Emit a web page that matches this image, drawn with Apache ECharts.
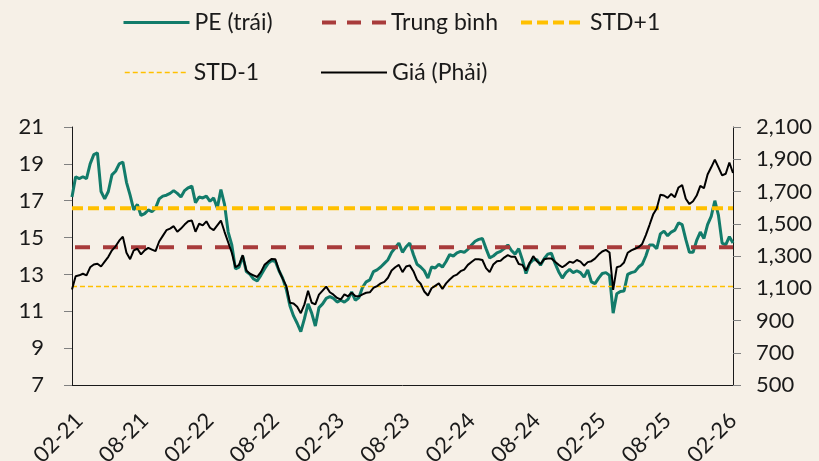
<!DOCTYPE html>
<html>
<head>
<meta charset="utf-8">
<script src="https://cdn.jsdelivr.net/npm/echarts@6/dist/echarts.min.js"></script>
<style>
  html, body { margin: 0; padding: 0; background: #f6f0e7; }
  #chart { width: 819px; height: 461px; }
</style>
</head>
<body>
<div id="chart"></div>
<script>
// P/E (left axis), ~3 points per month
const peValues = [
  17.2, 18.3, 18.2, 18.3, 18.2, 19.0, 19.5, 19.6, 17.5, 17.1,
  17.5, 18.4, 18.6, 19.0, 19.1, 18.0, 17.3, 16.5, 16.8, 16.2,
  16.3, 16.5, 16.4, 16.6, 17.1, 17.25, 17.3, 17.4, 17.55, 17.4,
  17.2, 17.55, 17.7, 17.8, 16.9, 17.2, 17.15, 17.25, 16.97, 17.15,
  16.6, 17.6, 16.8, 15.3, 14.6, 13.3, 13.4, 14.0, 13.15, 13.0,
  12.75, 12.65, 12.95, 13.3, 13.6, 13.75, 13.7, 13.2, 12.8, 12.2,
  11.3, 10.75, 10.35, 9.9, 10.6, 11.4, 10.9, 10.2, 11.2, 11.4,
  11.7, 11.8, 11.7, 11.5, 11.6, 11.5, 11.65, 12.05, 11.6, 11.75,
  12.3, 12.6, 12.7, 13.15, 13.25, 13.4, 13.6, 13.8, 14.2, 14.45,
  14.7, 14.2, 14.5, 14.7, 14.08, 13.55, 13.4, 13.2, 12.8, 13.4,
  13.35, 13.55, 13.4, 13.7, 14.08, 14.0, 14.17, 14.25, 14.2, 14.36,
  14.6, 14.8, 14.9, 14.95, 14.4, 13.9, 14.0, 14.17, 14.25, 14.4,
  14.6, 14.3, 14.1, 14.4, 13.8, 13.05, 13.6, 13.8, 13.8, 13.5,
  13.85, 14.1, 14.15, 13.6, 13.15, 12.8, 13.1, 13.27, 13.1, 13.2,
  13.1, 12.85, 13.25, 12.6, 12.5, 12.8, 13.05, 13.1, 12.95, 10.9,
  11.95, 12.08, 12.1, 13.0, 13.1, 13.15, 13.4, 13.55, 14.0, 14.6,
  14.6, 14.4, 15.2, 15.35, 15.1, 15.3, 15.4, 15.8, 15.7, 14.9,
  14.2, 14.2, 14.85, 15.3, 14.95, 15.7, 16.15, 17.0, 16.2, 14.7,
  14.6, 15.05, 14.7
];

// Giá (right axis)
const priceValues = [
  1092, 1175, 1180, 1190, 1180, 1230, 1247, 1252, 1235, 1265,
  1295, 1335, 1360, 1395, 1420, 1320, 1280, 1335, 1345, 1310,
  1335, 1350, 1340, 1330, 1390, 1425, 1460, 1470, 1485, 1450,
  1470, 1495, 1515, 1520, 1450, 1500, 1490, 1515, 1475, 1460,
  1490, 1520, 1450, 1385, 1320, 1230, 1245, 1305, 1210, 1190,
  1180, 1170, 1200, 1245, 1265, 1282, 1280, 1210, 1160, 1115,
  1010, 1005, 985, 945, 1000, 1085, 1010, 1000, 1060, 1085,
  1110, 1075, 1060, 1040, 1030, 1062, 1050, 1072, 1052, 1050,
  1062, 1072, 1075, 1103, 1113, 1130, 1140, 1165, 1210, 1230,
  1245, 1200, 1235, 1242, 1206, 1152, 1128, 1080, 1055, 1100,
  1115, 1130, 1095, 1130, 1154, 1175, 1185, 1206, 1216, 1245,
  1263, 1280, 1280, 1275, 1225, 1200, 1247, 1268, 1270, 1290,
  1305, 1295, 1295, 1250, 1245, 1210, 1255, 1299, 1268, 1250,
  1280, 1285, 1285, 1265, 1245, 1230, 1245, 1265, 1258, 1275,
  1265, 1240, 1262, 1268, 1284, 1309, 1328, 1338, 1322, 1090,
  1230, 1237, 1260, 1320, 1335, 1345, 1355, 1375, 1430, 1492,
  1557, 1595, 1680, 1675, 1660, 1685, 1665, 1725, 1740, 1655,
  1622, 1640, 1675, 1735, 1720, 1805, 1850, 1898, 1850, 1800,
  1810, 1880, 1815
];

const peMean = 14.47;
const peStdUp = 16.59;
const peStdDown = 12.35;

const xTickLabels = ["02-21", "08-21", "02-22", "08-22", "02-23", "08-23",
  "02-24", "08-24", "02-25", "08-25", "02-26"];

// dates: 1st, 11th, 21st of each month starting 2021-01-11
const dates = [];
(function () {
  let y = 2021, m = 1, d = 11;
  while (dates.length < peValues.length) {
    dates.push(y + "-" + String(m).padStart(2, "0") + "-" + String(d).padStart(2, "0"));
    if (d === 1) d = 11;
    else if (d === 11) d = 21;
    else { d = 1; m++; if (m > 12) { m = 1; y++; } }
  }
})();

const shortLabel = (s) => s.slice(5, 7) + "-" + s.slice(2, 4);
const flat = (v) => dates.map(() => v);

const font = "Lato";
const textColor = "#1a1a1a";
const green = "#127b6a";
const red = "#a83b3b";
const gold = "#ffc000";

const legendItem = (name, left, top, lineStyle) => ({
  data: [name],
  left: left,
  top: top,
  itemWidth: 66,
  itemHeight: 14,
  selectedMode: false,
  itemStyle: { opacity: 0 },
  lineStyle: lineStyle,
  textStyle: { fontFamily: font, fontSize: 23, color: textColor },
});

const chart = echarts.init(document.getElementById("chart"));
chart.setOption({
  backgroundColor: "#f6f0e7",
  animation: false,
  legend: [
    legendItem("PE (trái)", 117, 6, { width: 3 }),
    legendItem("Trung bình", 313, 6, { width: 4, type: [14, 11], dashOffset: -2 }),
    legendItem("STD+1", 512, 6, { width: 4, type: [11, 5] }),
    legendItem("STD-1", 117, 56, { width: 1.5, type: [5, 3] }),
    legendItem("Giá (Phải)", 315, 56, { width: 2 }),
  ],
  grid: { left: 72, right: 86, top: 127, bottom: 76, outerBoundsMode: "none" },
  xAxis: {
    type: "category",
    data: dates,
    boundaryGap: false,
    axisLine: { lineStyle: { color: textColor, width: 1 } },
    axisTick: { show: false },
    axisLabel: {
      rotate: 45,
      margin: 32,
      fontFamily: font,
      fontSize: 22,
      color: textColor,
      interval: (i, v) => v.slice(8) === "01" && xTickLabels.includes(shortLabel(v)),
      formatter: (v) => shortLabel(v),
    },
    splitLine: { show: false },
  },
  yAxis: [
    {
      type: "value",
      min: 7,
      max: 21,
      interval: 2,
      axisLine: { show: true, lineStyle: { color: textColor, width: 1 } },
      axisTick: { show: true, length: 8, lineStyle: { color: "#808080" } },
      axisLabel: { margin: 28, fontFamily: font, fontSize: 22, color: textColor },
      splitLine: { show: false },
    },
    {
      type: "value",
      min: 500,
      max: 2100,
      interval: 200,
      position: "right",
      axisLine: { show: true, lineStyle: { color: textColor, width: 1 } },
      axisTick: { show: true, length: 8, lineStyle: { color: "#808080" } },
      axisLabel: {
        margin: 23,
        fontFamily: font,
        fontSize: 22,
        color: textColor,
        formatter: (v) => v.toLocaleString("en-US"),
      },
      splitLine: { show: false },
    },
  ],
  series: [
    {
      name: "PE (trái)",
      type: "line",
      yAxisIndex: 0,
      data: peValues,
      symbol: "none",
      itemStyle: { color: green },
      lineStyle: { color: green, width: 3 },
    },
    {
      name: "Trung bình",
      type: "line",
      yAxisIndex: 0,
      data: flat(peMean),
      symbol: "none",
      itemStyle: { color: red },
      lineStyle: { color: red, width: 4, type: [15, 13], dashOffset: -3 },
    },
    {
      name: "STD+1",
      type: "line",
      yAxisIndex: 0,
      data: flat(peStdUp),
      symbol: "none",
      itemStyle: { color: gold },
      lineStyle: { color: gold, width: 4, type: [11, 5] },
    },
    {
      name: "STD-1",
      type: "line",
      yAxisIndex: 0,
      data: flat(peStdDown),
      symbol: "none",
      itemStyle: { color: gold },
      lineStyle: { color: gold, width: 1.5, type: [5, 3] },
    },
    {
      name: "Giá (Phải)",
      type: "line",
      yAxisIndex: 1,
      data: priceValues,
      symbol: "none",
      itemStyle: { color: "#000000" },
      lineStyle: { color: "#000000", width: 2 },
    },
  ],
});
</script>
</body>
</html>
